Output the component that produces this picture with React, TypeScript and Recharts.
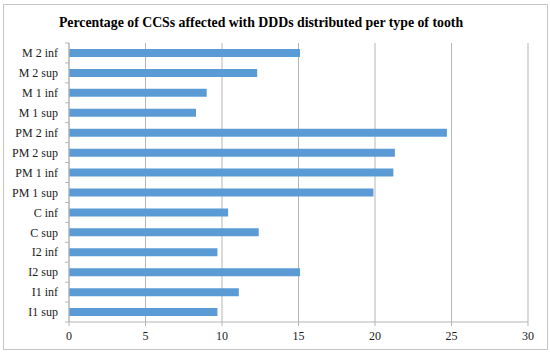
import React from "react";
import { BarChart, Bar, XAxis, YAxis, CartesianGrid } from "recharts";

const categories = [
  "M 2 inf", "M 2 sup", "M 1 inf", "M 1 sup",
  "PM 2 inf", "PM 2 sup", "PM 1 inf", "PM 1 sup",
  "C inf", "C sup", "I2 inf", "I2 sup", "I1 inf", "I1 sup",
];
const percentages = [15.1, 12.3, 9.0, 8.3, 24.7, 21.3, 21.2, 19.9, 10.4, 12.4, 9.7, 15.1, 11.1, 9.7];
const xTicks = [0, 5, 10, 15, 20, 25, 30];
const title = "Percentage of CCSs affected with DDDs distributed per type of tooth";

const data = categories.map((name, i) => ({ name, value: percentages[i] }));

const FONT = "'Liberation Serif', 'DejaVu Serif', serif";
const GRID = "#b5b5b5";
const W = 550;
const H = 354;
const MARGIN = { top: 43, right: 22, bottom: 2, left: 9 };
const XAXIS_H = 30;
const PLOT_H = H - MARGIN.top - MARGIN.bottom - XAXIS_H;
const BAND = PLOT_H / categories.length;

const YTick = (props: any) => {
  const { x, y, payload, index } = props;
  const axisX = x + 11;
  return (
    <g>
      <line x1={axisX - 4} x2={axisX} y1={y - BAND / 2} y2={y - BAND / 2} stroke={GRID} />
      {index === categories.length - 1 && (
        <line x1={axisX - 4} x2={axisX} y1={y + BAND / 2} y2={y + BAND / 2} stroke={GRID} />
      )}
      <text x={x} y={y} dy="0.35em" textAnchor="end" fill="#1a1a1a" fontSize={12} fontFamily={FONT}>
        {payload.value}
      </text>
    </g>
  );
};

export default function App() {
  return (
    <div style={{ position: "absolute", left: 0, top: 0, width: W, height: H, background: "#fff" }}>
      <div
        style={{
          position: "absolute",
          left: 3,
          top: 4,
          width: 543,
          height: 344,
          border: "1px solid #c4c4c4",
        }}
      />
      <div
        style={{
          position: "absolute",
          left: -14,
          top: 13,
          width: W,
          textAlign: "center",
          fontFamily: FONT,
          fontWeight: "bold",
          fontSize: 13.8,
          color: "#000",
          lineHeight: "20px",
        }}
      >
        {title}
      </div>
      <div style={{ position: "absolute", left: 0, top: 0 }}>
        <BarChart width={W} height={H} data={data} layout="vertical" margin={MARGIN}>
          <CartesianGrid horizontal={false} stroke={GRID} strokeWidth={1} />
          <XAxis
            type="number"
            domain={[0, 30]}
            ticks={xTicks}
            height={XAXIS_H}
            axisLine={{ stroke: GRID }}
            tickLine={{ stroke: GRID }}
            tickSize={4}
            tickMargin={5}
            tick={{ fill: "#1a1a1a", fontSize: 12, fontFamily: FONT }}
            interval={0}
          />
          <YAxis
            type="category"
            dataKey="name"
            width={60}
            axisLine={{ stroke: GRID }}
            tickLine={false}
            tickSize={5}
            tickMargin={6}
            tick={<YTick />}
            interval={0}
          />
          <Bar dataKey="value" fill="#5b9bd5" barSize={8} isAnimationActive={false} />
        </BarChart>
      </div>
    </div>
  );
}
